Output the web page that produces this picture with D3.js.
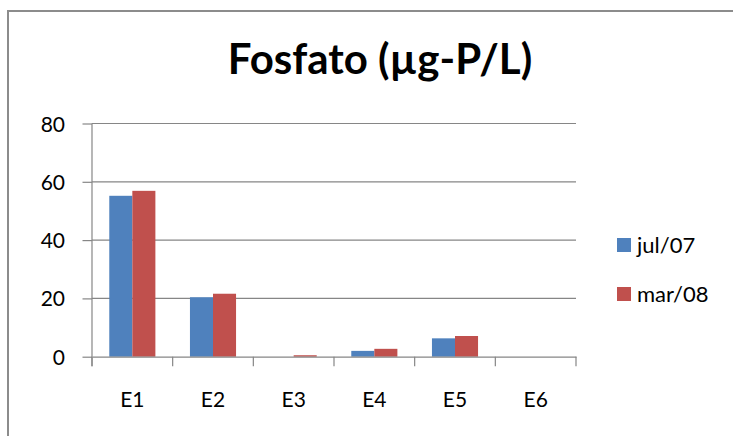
<!DOCTYPE html>
<html><head><meta charset="utf-8">
<script src="https://cdn.jsdelivr.net/npm/d3@7"></script>
<style>html,body{margin:0;background:#fff;overflow:hidden}svg{display:block}</style>
</head><body>
<svg id="c" width="733" height="436"></svg>
<script>
const categories = ["E1","E2","E3","E4","E5","E6"];
const seriesNames = ["jul/07","mar/08"];
const jul07 = [55.2, 20.4, 0, 2.0, 6.3, 0];
const mar08 = [56.9, 21.6, 0.5, 2.7, 7.1, 0];
const yTicks = [0,20,40,60,80];
const colors = ["#4F81BD","#C0504D"];
const title = "Fosfato (\u00b5g-P/L)";

const svg = d3.select("#c");
const font = "Lato, 'Open Sans', sans-serif";

// outer chart border (only top and left visible in the crop)
svg.append("path").attr("d","M8,436V11H733").attr("fill","none")
  .attr("stroke","#8c8c8c").attr("stroke-width",2);

const m = {l:92, r:576, t:123.5, b:356.7};
const x = d3.scaleBand().domain(categories).range([m.l,m.r]).paddingInner(0).paddingOuter(0);
const y = d3.scaleLinear().domain([0,80]).range([m.b,m.t]);
const xs = d3.scaleBand().domain(seriesNames).range([0,x.bandwidth()]).paddingInner(0).paddingOuter(0.75);

// gridlines
svg.append("g").selectAll("line").data(yTicks.filter(d=>d>0)).join("line")
  .attr("x1",m.l).attr("x2",m.r).attr("y1",d=>y(d)).attr("y2",d=>y(d))
  .attr("stroke","#868686").attr("stroke-width",1.2);

// bars
const data = [jul07, mar08];
seriesNames.forEach((s,i)=>{
  svg.append("g").selectAll("rect").data(categories).join("rect")
    .attr("x",c=>x(c)+xs(s)).attr("width",xs.bandwidth())
    .attr("y",(c,j)=>y(data[i][j])).attr("height",(c,j)=>y(0)-y(data[i][j]))
    .attr("fill",colors[i]);
});

// y axis
const ya = svg.append("g").attr("transform",`translate(${m.l},0)`)
  .call(d3.axisLeft(y).tickValues(yTicks).tickSize(9.5).tickPadding(10));
ya.select(".domain").attr("stroke","#868686").attr("stroke-width",1.2).attr("d",`M0,${m.t}V${m.b+9.5}`);
ya.selectAll(".tick line").attr("stroke","#868686").attr("stroke-width",1.2);
ya.selectAll("text").attr("font-family",font).attr("font-size",21).attr("fill","#000").attr("x",-27).attr("dy","0.36em");

// x axis
const xa = svg.append("g").attr("transform",`translate(0,${m.b})`)
  .call(d3.axisBottom(x).tickSize(0).tickPadding(35));
xa.select(".domain").attr("stroke","#868686").attr("stroke-width",1.2);
xa.selectAll("text").attr("font-family",font).attr("font-size",21).attr("fill","#000");
const bounds = categories.map(c=>x(c)).concat([m.r]);
xa.append("g").selectAll("line").data(bounds).join("line")
  .attr("x1",d=>d).attr("x2",d=>d).attr("y1",0).attr("y2",9.5)
  .attr("stroke","#868686").attr("stroke-width",1.2);

// title
svg.append("text").attr("x",380).attr("y",74).attr("text-anchor","middle")
  .attr("font-family",font).attr("font-weight","bold").attr("font-size",42)
  .attr("fill","#000").text(title);

// legend
const lg = svg.append("g");
seriesNames.forEach((s,i)=>{
  const yy = 238 + i*49;
  lg.append("rect").attr("x",617).attr("y",yy).attr("width",14).attr("height",14).attr("fill",colors[i]);
  lg.append("text").attr("x",637).attr("y",yy+15).attr("font-family",font).attr("font-size",22)
    .attr("fill","#000").text(s);
});
</script>
</body></html>
